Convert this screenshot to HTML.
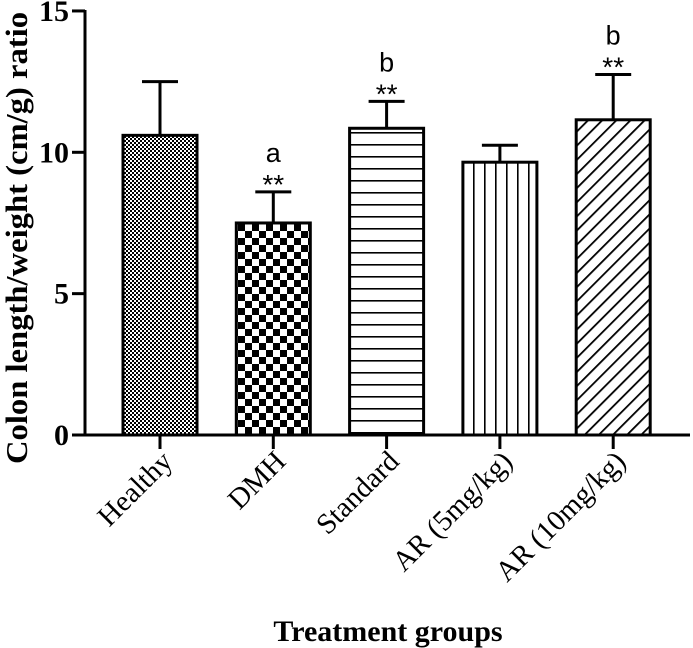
<!DOCTYPE html>
<html><head><meta charset="utf-8"><style>body{margin:0;background:#fff}svg{display:block}</style></head>
<body>
<svg width="693" height="648" viewBox="0 0 693 648" id="chart">
<defs>
<pattern id="p0" width="4" height="4" patternUnits="userSpaceOnUse"><rect width="4" height="4" fill="#fff"/><rect width="2" height="2" fill="#000"/><rect x="2" y="2" width="2" height="2" fill="#000"/></pattern>
<pattern id="p1" width="14" height="14" patternUnits="userSpaceOnUse"><rect width="14" height="14" fill="#fff"/><rect width="7" height="7" fill="#000"/><rect x="7" y="7" width="7" height="7" fill="#000"/></pattern>
<pattern id="p2" width="10" height="12" patternUnits="userSpaceOnUse"><rect width="10" height="12" fill="#fff"/><rect y="0" width="10" height="1.6" fill="#000"/></pattern>
<pattern id="p3" width="11" height="10" patternUnits="userSpaceOnUse"><rect width="11" height="10" fill="#fff"/><rect x="0" width="1.6" height="10" fill="#000"/></pattern>
<pattern id="p4" width="10" height="10" patternUnits="userSpaceOnUse" patternTransform="rotate(45)"><rect width="10" height="10" fill="#fff"/><rect width="1.8" height="10" fill="#000"/></pattern>
</defs>
<g id="plot"></g>
<text x="0" y="0" transform="translate(27,238) rotate(-90)" text-anchor="middle" font-family="Liberation Serif, serif" font-weight="bold" font-size="31" textLength="452" lengthAdjust="spacingAndGlyphs">Colon length/weight (cm/g) ratio</text>
<text x="388" y="641" text-anchor="middle" font-family="Liberation Serif, serif" font-weight="bold" font-size="30">Treatment groups</text>
</svg>
<script>
const categories=["Healthy","DMH","Standard","AR (5mg/kg)","AR (10mg/kg)"];
const means=[10.6,7.5,10.85,9.65,11.15];
const errors=[1.9,1.1,0.95,0.6,1.6];
const stars=["","**","**","","**"];
const letters=["","a","b","","b"];
const yTicks=[0,5,10,15];
const NS="http://www.w3.org/2000/svg";
const g=document.getElementById('plot');
const y=v=>435-v*28.27;
const xc=i=>160+i*113.3;
const bw=74;
function el(t,a){const e=document.createElementNS(NS,t);for(const k in a)e.setAttribute(k,a[k]);g.appendChild(e);return e;}
for(let i=0;i<categories.length;i++){
  const cx=xc(i);
  const ln=el('line',{x1:cx,x2:cx,y1:y(means[i]),y2:y(means[i]+errors[i]),stroke:'#000','stroke-width':3});
  
  
  const cap=el('line',{x1:cx-18,x2:cx+18,y1:y(means[i]+errors[i]),y2:y(means[i]+errors[i]),stroke:'#000','stroke-width':3});
  
  
  const r=el('rect',{x:cx-bw/2,y:y(means[i]),width:bw,height:y(0)-y(means[i]),fill:'url(#p'+i+')',stroke:'#000','stroke-width':3});
  
  
  const xt=el('line',{x1:cx,x2:cx,y1:435,y2:449,stroke:'#000','stroke-width':3});
  
  
  const top=y(means[i]+errors[i]);
  if(stars[i]){const s=el('text',{x:cx,y:top+2,'text-anchor':'middle','font-family':'Liberation Sans, sans-serif','font-size':28});s.textContent=stars[i];
    
    }
  if(letters[i]){const s=el('text',{x:cx,y:top-30,'text-anchor':'middle','font-family':'Liberation Sans, sans-serif','font-size':27});s.textContent=letters[i];
    
    }
  const lb=el('text',{x:0,y:0,transform:`translate(${cx+14},${463}) rotate(-45)`,'text-anchor':'end','font-family':'Liberation Serif, serif','font-size':29});
  lb.textContent=categories[i];
  
  
}
const ya=el('line',{x1:85,x2:85,y1:10,y2:436.5,stroke:'#000','stroke-width':3});


const xa=el('line',{x1:83.5,x2:690,y1:435,y2:435,stroke:'#000','stroke-width':3});


for(const t of yTicks){
  const tk=el('line',{x1:72,x2:85,y1:y(t),y2:y(t),stroke:'#000','stroke-width':3});
  
  
  const tl=el('text',{x:69,y:y(t)+10,'text-anchor':'end','font-family':'Liberation Serif, serif','font-weight':'bold','font-size':30});
  tl.textContent=t;
  
  
}
</script>
</body></html>
